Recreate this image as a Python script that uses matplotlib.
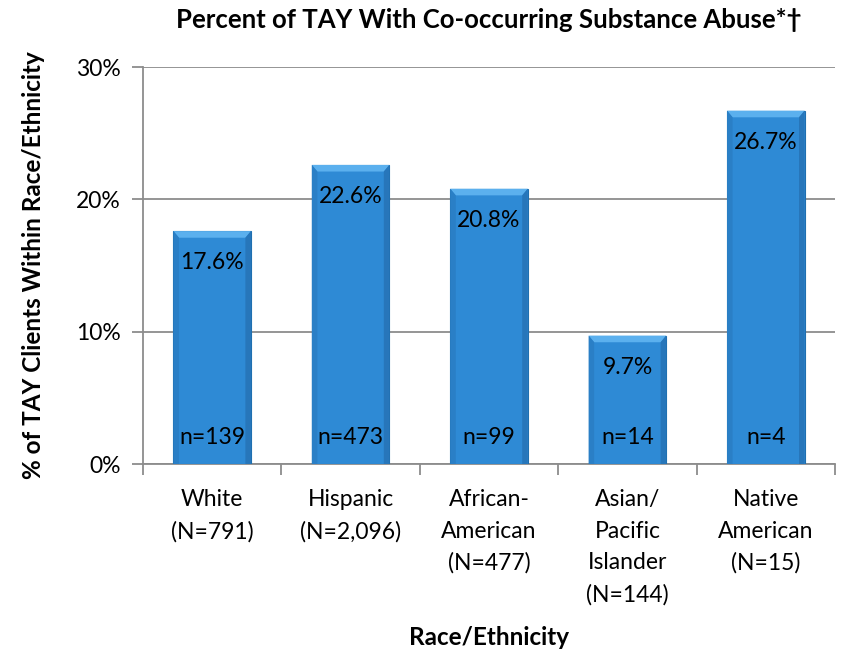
import matplotlib
matplotlib.use("Agg")
import matplotlib.pyplot as plt
from matplotlib.patches import Polygon
from matplotlib.ticker import FuncFormatter, FixedLocator

categories = ["White\n(N=791)", "Hispanic\n(N=2,096)", "African-\nAmerican\n(N=477)",
              "Asian/\nPacific\nIslander\n(N=144)", "Native\nAmerican\n(N=15)"]
percents = [17.6, 22.6, 20.8, 9.7, 26.7]
counts = [139, 473, 99, 14, 4]

plt.rcParams["font.family"] = ["Lato", "DejaVu Sans"]

fig = plt.figure(figsize=(8.46, 6.55), dpi=100)
ax = fig.add_axes([0.169, 0.2916, 0.818, 0.6061])

x = list(range(len(categories)))
bar_w = 0.56
bars = ax.bar(x, percents, width=bar_w, color="#2E8AD5", edgecolor="#1F6FB0",
              linewidth=0.8, zorder=3)

# bevelled top highlight on each bar
for xi, v in zip(x, percents):
    h = 0.5
    inset = 0.04
    ax.add_patch(Polygon([(xi - bar_w / 2, v), (xi + bar_w / 2, v),
                          (xi + bar_w / 2 - inset, v - h), (xi - bar_w / 2 + inset, v - h)],
                         closed=True, facecolor="#5BB0EE", edgecolor="none", zorder=4))
    ax.add_patch(Polygon([(xi - bar_w / 2, v), (xi - bar_w / 2 + inset, v - h),
                          (xi - bar_w / 2 + inset, 0), (xi - bar_w / 2, 0)],
                         closed=True, facecolor="#2A7FC6", edgecolor="none", zorder=4))
    ax.add_patch(Polygon([(xi + bar_w / 2, v), (xi + bar_w / 2 - inset, v - h),
                          (xi + bar_w / 2 - inset, 0), (xi + bar_w / 2, 0)],
                         closed=True, facecolor="#2776BA", edgecolor="none", zorder=4))
    ax.text(xi, v - 2.4, f"{v:.1f}%", ha="center", va="center", fontsize=16.5,
            color="black", zorder=5)

for xi, n in zip(x, counts):
    ax.text(xi, 2.0, f"n={n}", ha="center", va="center", fontsize=16.5,
            color="black", zorder=5)

ax.set_xlim(-0.5, len(categories) - 0.5)
ax.set_ylim(0, 30)
ax.yaxis.set_major_locator(FixedLocator([0, 10, 20, 30]))
ax.yaxis.set_major_formatter(FuncFormatter(lambda v, p: f"{v:.0f}%"))
ax.grid(axis="y", color="#8C8C8C", linewidth=1.3, zorder=0)
ax.set_axisbelow(True)

ax.set_xticks(x)
ax.set_xticklabels(categories, fontsize=16.5, linespacing=1.62)
ax.set_xticks([i + 0.5 for i in range(-1, len(categories))], minor=True)
ax.tick_params(axis="x", which="major", length=0, pad=18)
ax.tick_params(axis="x", which="minor", length=8, width=1.3, color="#8C8C8C")
ax.tick_params(axis="y", length=8, width=1.3, color="#8C8C8C", labelsize=16.5, pad=8)

for s in ["top", "right"]:
    ax.spines[s].set_visible(False)
for s in ["left", "bottom"]:
    ax.spines[s].set_color("#8C8C8C")
    ax.spines[s].set_linewidth(1.3)

ax.set_title("Percent of TAY With Co-occurring Substance Abuse*\u2020", fontsize=18.5,
             fontweight="bold", pad=28, x=0.5)
ax.set_ylabel("% of TAY Clients Within Race/Ethnicity", fontsize=17.5,
              fontweight="bold", labelpad=22)
ax.set_xlabel("Race/Ethnicity", fontsize=17.5, fontweight="bold", labelpad=15)

fig.savefig("out.png", dpi=100)
